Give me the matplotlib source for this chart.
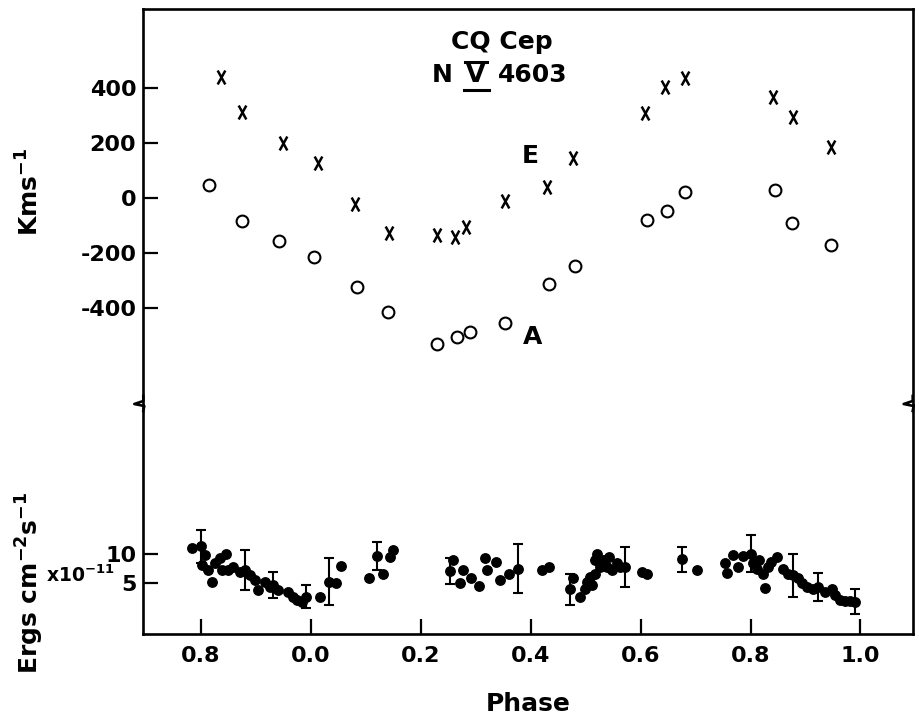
import matplotlib
matplotlib.use("Agg")
import matplotlib.pyplot as plt
from matplotlib.path import Path
from matplotlib.lines import Line2D

plt.rcParams['font.family'] = ['DejaVu Sans']
plt.rcParams['font.weight'] = 'bold'
plt.rcParams['axes.unicode_minus'] = False
plt.rcParams['mathtext.fontset'] = 'custom'
plt.rcParams['mathtext.rm'] = 'DejaVu Sans:bold'
plt.rcParams['mathtext.default'] = 'rm'

# ---------------- data ----------------
# continuous phase axis (0.8 ... 2.0), labelled with the printed tick labels
xtick_pos = [0.8, 1.0, 1.2, 1.4, 1.6, 1.8, 2.0]
xtick_labels = ['0.8', '0.0', '0.2', '0.4', '0.6', '0.8', '1.0']

vel_ticks = [400, 200, 0, -200, -400]
flux_ticks = [10, 5]

# emission component E (crosses), km/s
e_phase = [0.837, 0.875, 0.949, 1.014, 1.081, 1.142, 1.230, 1.263, 1.282,
           1.353, 1.430, 1.477, 1.608, 1.644, 1.681, 1.841, 1.878, 1.947]
e_vel = [438, 313, 198, 127, -24, -127, -136, -144, -108,
         -13, 40, 143, 307, 402, 434, 365, 295, 186]

# absorption component A (open circles), km/s
a_phase = [0.816, 0.876, 0.943, 1.006, 1.085, 1.140, 1.229, 1.267, 1.289,
           1.353, 1.434, 1.481, 1.611, 1.649, 1.681, 1.845, 1.875, 1.947]
a_vel = [46, -85, -158, -216, -326, -417, -533, -506, -487,
         -457, -314, -248, -81, -47, 22, 28, -93, -172]

# continuum flux (x1e-11 erg cm^-2 s^-1)
flux_phase = [0.784, 0.800, 0.808, 0.802, 0.814, 0.820, 0.826, 0.835, 0.846, 0.838,
              0.850, 0.859, 0.872, 0.881, 0.890, 0.899, 0.905, 0.917, 0.926, 0.931,
              0.941, 0.959, 0.968, 0.975, 0.984, 0.992, 1.017, 1.034, 1.046, 1.055,
              1.107, 1.120, 1.132, 1.144, 1.150,
              1.254, 1.258, 1.272, 1.277, 1.292, 1.307, 1.317, 1.320, 1.337, 1.344,
              1.360, 1.377, 1.420, 1.434,
              1.472, 1.478, 1.490, 1.499, 1.502, 1.511, 1.508, 1.517, 1.521, 1.517,
              1.526, 1.532, 1.539, 1.543, 1.548, 1.557, 1.563, 1.572, 1.602, 1.612,
              1.675, 1.703,
              1.754, 1.757, 1.769, 1.778, 1.786, 1.801, 1.805, 1.812, 1.816, 1.823,
              1.826, 1.831, 1.837, 1.848, 1.860, 1.869, 1.878, 1.887, 1.893, 1.902,
              1.914, 1.923, 1.936, 1.948, 1.954, 1.963, 1.972, 1.981, 1.990]
flux_val = [11.0, 11.4, 9.8, 8.1, 7.2, 5.2, 8.4, 9.3, 10.1, 7.3,
            7.3, 7.8, 6.9, 7.2, 6.3, 5.5, 3.7, 5.2, 4.3, 4.6,
            3.7, 3.4, 2.6, 2.0, 1.7, 2.6, 2.6, 5.2, 4.9, 7.9,
            5.8, 9.7, 6.6, 9.5, 10.8,
            7.1, 9.0, 4.9, 7.3, 5.9, 4.4, 9.4, 7.2, 8.6, 5.5,
            6.5, 7.5, 7.2, 7.8,
            3.9, 5.8, 2.6, 4.0, 5.2, 4.6, 6.1, 6.6, 10.1, 9.0,
            7.8, 9.0, 7.8, 9.5, 7.2, 8.4, 7.8, 7.8, 6.9, 6.5,
            9.1, 7.3,
            8.4, 6.7, 9.8, 7.8, 9.7, 10.1, 8.4, 7.5, 9.0, 6.6,
            4.1, 7.8, 8.7, 9.5, 7.5, 6.6, 6.3, 5.8, 4.9, 4.3,
            4.0, 4.3, 3.4, 4.0, 2.9, 2.0, 1.8, 1.8, 1.7]

# points carrying error bars
err_phase = [0.800, 0.881, 0.931, 0.992, 1.034, 1.120, 1.254, 1.377,
             1.472, 1.572, 1.675, 1.801, 1.878, 1.923, 1.990]
err_flux = [11.4, 7.2, 4.6, 2.6, 5.2, 9.7, 7.1, 7.5,
            3.9, 7.8, 9.1, 10.1, 6.3, 4.3, 1.7]
err_size = [2.9, 3.5, 2.3, 2.0, 4.1, 2.5, 2.3, 4.2,
            2.7, 3.5, 2.2, 3.2, 3.7, 2.5, 2.2]

# ---------------- figure ----------------
W, H = 919, 721
fig = plt.figure(figsize=(W / 100, H / 100), dpi=100)


def fx(x):
    return x / W


def fy(y):
    return 1 - y / H


left, right = 143.3, 912.7
top, brk, bot = 9.3, 405.0, 634.0
ax1 = fig.add_axes([fx(left), fy(brk), fx(right) - fx(left), fy(top) - fy(brk)])
ax2 = fig.add_axes([fx(left), fy(bot), fx(right) - fx(left), fy(brk) - fy(bot)])

xlim = (0.6956, 2.095)
for ax in (ax1, ax2):
    ax.set_xlim(*xlim)
    for s in ax.spines.values():
        s.set_linewidth(1.9)
ax1.spines['bottom'].set_visible(False)
ax2.spines['top'].set_visible(False)

ax1.set_ylim(-754, 685)
ax2.set_ylim(-3.9, 36)

# upper panel: radial velocities
xmark = Path([(-0.55, -1), (0.55, 1), (0.55, -1), (-0.55, 1)],
             [Path.MOVETO, Path.LINETO, Path.MOVETO, Path.LINETO])
ax1.plot(e_phase, e_vel, linestyle='none', marker=xmark, ms=10,
         mew=1.8, color='black')
ax1.plot(a_phase, a_vel, linestyle='none', marker='o', ms=8.5,
         mfc='none', mec='black', mew=1.5)

ax1.set_xticks([])
ax1.set_yticks(vel_ticks)
ax1.set_yticklabels([str(v) for v in vel_ticks])
ax1.tick_params(axis='y', direction='in', length=11, width=1.6,
                labelsize=16, pad=5)

ax1.text(1.399, 152, 'E', fontsize=18, ha='center', va='center')
ax1.text(1.403, -507, 'A', fontsize=18, ha='center', va='center')

# lower panel: flux
ax2.errorbar(err_phase, err_flux, yerr=err_size, fmt='none', ecolor='black',
             elinewidth=1.5, capsize=3.5, capthick=1.5)
ax2.plot(flux_phase, flux_val, linestyle='none', marker='o', ms=6.8,
         color='black')
ax2.set_xticks(xtick_pos)
ax2.set_xticklabels(xtick_labels)
ax2.set_yticks(flux_ticks)
ax2.set_yticklabels([str(v) for v in flux_ticks])
ax2.tick_params(axis='both', direction='in', length=11, width=1.6,
                labelsize=16)
ax2.tick_params(axis='x', pad=9)
ax2.tick_params(axis='y', pad=5)

# titles / labels
fig.text(fx(502), fy(42), 'CQ Cep', fontsize=18, ha='center', va='center')
fig.text(fx(442), fy(75), 'N', fontsize=18, ha='center', va='center')
fig.text(fx(476), fy(75), 'V', fontsize=18, ha='center', va='center')
fig.text(fx(533), fy(75), '4603', fontsize=18, ha='center', va='center')
fig.add_artist(Line2D([fx(465), fx(487)], [fy(62), fy(62)], color='black',
                      lw=2.2, transform=fig.transFigure))
fig.add_artist(Line2D([fx(464), fx(489)], [fy(90), fy(90)], color='black',
                      lw=2.2, transform=fig.transFigure))

fig.text(fx(30), fy(192), 'Kms$^{-1}$', fontsize=18, rotation=90,
         ha='center', va='center')
fig.text(fx(30), fy(583), 'Ergs cm$^{-2}$s$^{-1}$', fontsize=18, rotation=90,
         ha='center', va='center')
fig.text(fx(46), fy(575), 'x10$^{-11}$', fontsize=13.5, ha='left', va='center')
fig.text(fx(528), fy(704), 'Phase', fontsize=18, ha='center', va='center')

# axis-break marks on both sides
for xb in (left, right):
    fig.add_artist(Line2D([fx(xb), fx(xb), fx(xb - 9), fx(xb + 1), fx(xb)],
                          [fy(396), fy(401), fy(404), fy(406), fy(411)],
                          color='black', lw=1.9, transform=fig.transFigure))

fig.savefig('out.png', dpi=100)
